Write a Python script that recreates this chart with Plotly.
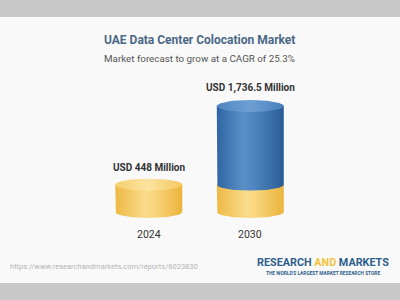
import numpy as np
import plotly.graph_objects as go

# ---- data ----
years = ["2024", "2030"]
values = [448, 1736.5]
value_labels = ["USD 448 Million", "USD 1,736.5 Million"]
title_text = "UAE Data Center Colocation Market"
subtitle_text = "Market forecast to grow at a CAGR of 25.3%"
source_url = "https://www.researchandmarkets.com/reports/6023830"

# ---- geometry / style ----
HW = 0.33          # half width of cylinder (category units)
RY = 98            # vertical radius of ellipse (value units)
YMIN, YMAX = -459, 3145
ang_half = np.linspace(0, np.pi, 48)
ang_full = np.linspace(0, 2 * np.pi, 96)

YEL_BODY = [[0, "#eeb945"], [0.45, "#f9dc8c"], [0.6, "#f8d47a"], [1, "#ebb43c"]]
YEL_TOP = [[0, "#f6d06e"], [0.5, "#fbe3a0"], [1, "#f4c85e"]]
BLU_BODY = [[0, "#2f66a3"], [0.4, "#5a90c8"], [0.55, "#4f86c0"], [1, "#2a5d96"]]
BLU_TOP = [[0, "#4f86c1"], [0.5, "#6e9fd3"], [1, "#4a80bb"]]


def body(cx, y0, y1, cs):
    xs = [cx - HW] + list(cx - HW * np.cos(ang_half)) + [cx + HW, cx - HW]
    ys = [y1] + list(y0 - RY * np.sin(ang_half)) + [y1, y1]
    return go.Scatter(x=xs, y=ys, mode="lines", fill="toself",
                      fillgradient=dict(type="horizontal", colorscale=cs),
                      line=dict(width=0), hoverinfo="skip", showlegend=False)


def top(cx, y, cs):
    return go.Scatter(x=list(cx + HW * np.cos(ang_full)),
                      y=list(y + RY * np.sin(ang_full)),
                      mode="lines", fill="toself",
                      fillgradient=dict(type="horizontal", colorscale=cs),
                      line=dict(width=0), hoverinfo="skip", showlegend=False)


fig = go.Figure()
base = values[0]
# yellow (base) segments
for i, v in enumerate(values):
    yv = min(v, base)
    fig.add_trace(body(i, 0, yv, YEL_BODY))
    fig.add_trace(top(i, yv, YEL_TOP))
# blue (growth) segments
for i, v in enumerate(values):
    if v > base:
        fig.add_trace(body(i, base, v, BLU_BODY))
        fig.add_trace(top(i, v, BLU_TOP))

ann = []
for i, (v, lab, yr) in enumerate(zip(values, value_labels, years)):
    ann.append(dict(x=i, y=v + RY, xref="x", yref="y", text=f"<b>{lab}</b>",
                    showarrow=False, xanchor="center", yanchor="bottom", yshift=4,
                    font=dict(size=10, color="#333333", family="Roboto")))
    ann.append(dict(x=i, y=-RY, xref="x", yref="y", text=yr,
                    showarrow=False, xanchor="center", yanchor="top", yshift=-8,
                    font=dict(size=10.5, color="#333333", family="Roboto")))

ann += [
    dict(x=0.5, y=0.909, xref="paper", yref="paper", text=f"<b>{title_text}</b>",
         showarrow=False, xanchor="center", yanchor="middle",
         font=dict(size=12, color="#4a6886", family="Roboto")),
    dict(x=0.5, y=0.827, xref="paper", yref="paper", text=subtitle_text,
         showarrow=False, xanchor="center", yanchor="middle",
         font=dict(size=9.8, color="#555555", family="Roboto")),
    dict(x=-0.443, y=-0.1227, xref="paper", yref="paper", text=source_url,
         showarrow=False, xanchor="left", yanchor="middle",
         font=dict(size=7.5, color="#b5b5b5", family="Roboto")),
    dict(x=1.108, y=-0.1045, xref="paper", yref="paper",
         text="<b>RESEARCH <span style='color:#f3c53a'>AND</span> MARKETS</b>",
         showarrow=False, xanchor="center", yanchor="middle",
         font=dict(size=10.8, color="#2e5f8c", family="Roboto")),
    dict(x=1.108, y=-0.1545, xref="paper", yref="paper",
         text="<b>THE WORLD'S LARGEST MARKET RESEARCH STORE</b>",
         showarrow=False, xanchor="center", yanchor="middle",
         font=dict(size=4.8, color="#2e5f8c", family="Roboto")),
]

fig.update_layout(
    width=400, height=300,
    margin=dict(l=98, r=99, t=20, b=60),
    paper_bgcolor="#c8c8c8",
    plot_bgcolor="rgba(0,0,0,0)",
    xaxis=dict(range=[-0.5, 1.5], visible=False, fixedrange=True),
    yaxis=dict(range=[YMIN, YMAX], visible=False, fixedrange=True),
    annotations=ann,
    shapes=[dict(type="rect", xref="paper", yref="paper", layer="below",
                 x0=-0.4828, x1=1.4877, y0=-0.1955, y1=1.0136,
                 fillcolor="#f9f9f9", line=dict(width=0))],
    showlegend=False,
)

fig.write_html("out.html")
